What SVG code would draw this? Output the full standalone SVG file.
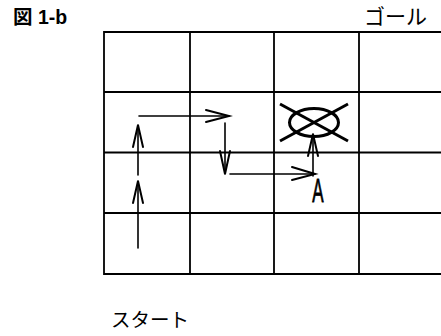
<svg xmlns="http://www.w3.org/2000/svg" width="441" height="336" viewBox="0 0 441 336">
<style>
.grid{stroke:#000;stroke-width:1.8;fill:none}
.arr{stroke:#000;stroke-width:1.6;fill:none;stroke-linecap:round}
.head{stroke:#000;stroke-width:2;fill:none;stroke-linecap:round;stroke-linejoin:miter}
.t{font-family:"Liberation Sans","Noto Sans CJK JP",sans-serif;fill:#000}
</style>
<rect width="441" height="336" fill="#fff"/>
<g id="title"><text class="t" x="13" y="24" font-size="19.5" font-weight="bold">図 1-b</text></g>
<g id="goal-label"><text class="t" x="364" y="24" font-size="21">ゴール</text></g>
<g id="start-label"><text class="t" x="111" y="327" font-size="19.5">スタート</text></g>
<g id="grid">
<path class="grid" d="M441 32 H104 V274 H441 M104 92 H441 M104 152.5 H441 M104 213 H441 M190 32 V274 M274 32 V274 M359 32 V274"/>
</g>
<g id="goal">
<ellipse cx="314" cy="122.5" rx="24.5" ry="14" fill="none" stroke="#000" stroke-width="3"/>
<line x1="280" y1="104" x2="348" y2="141" stroke="#000" stroke-width="3"/>
<line x1="280" y1="141" x2="348" y2="104" stroke="#000" stroke-width="3"/>
</g>
<g id="A"><text class="t" x="0" y="0" font-size="34" text-anchor="middle" stroke="#000" stroke-width="0.8" transform="translate(318 202) scale(0.5 1)">A</text></g>
<g id="connectors">
<line class="arr" x1="138" y1="248" x2="138" y2="181"/>
<path class="head" d="M133 203 L138 181 L143 203"/>
<line class="arr" x1="138" y1="175" x2="138" y2="125"/>
<path class="head" d="M133 147 L138 125 L143 147"/>
<line class="arr" x1="139" y1="116" x2="229" y2="116"/>
<path class="head" d="M206 110 L229 116 L206 122"/>
<line class="arr" x1="225" y1="123" x2="225" y2="174"/>
<path class="head" d="M220 151 L225 174 L230 151"/>
<line class="arr" x1="230" y1="174" x2="315" y2="174"/>
<path class="head" d="M292 167 L315 174 L292 180"/>
<line class="arr" x1="313" y1="176" x2="313" y2="134"/>
<path class="head" d="M308 156 L313 134 L318 156"/>
</g>
</svg>
